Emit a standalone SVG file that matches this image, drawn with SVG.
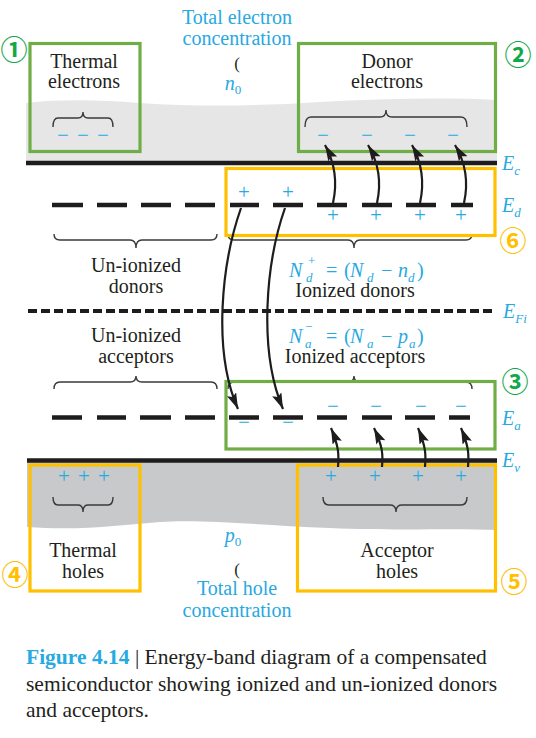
<svg xmlns="http://www.w3.org/2000/svg" width="536" height="738" viewBox="0 0 536 738">
<style>
.lbl{font-family:"Liberation Serif",serif;font-size:20px;fill:#231f20;text-anchor:middle}
.blu{font-family:"Liberation Serif",serif;font-size:20px;fill:#27a9e1;text-anchor:middle}
.it{font-style:italic}
.sub{font-size:13px}
.pm{font-family:"Liberation Serif",serif;font-size:21px;fill:#27a9e1;text-anchor:middle}
.band{stroke:#1e1c1d;stroke-width:4.5;fill:none}
.lvl{stroke:#1e1c1d;stroke-width:4.5;fill:none}
.brace{stroke:#3a3a3a;stroke-width:1.4;fill:none}
.gbox{fill:none;stroke:#70ad47;stroke-width:3.2}
.obox{fill:none;stroke:#ffc000;stroke-width:3.2}
.num{font-family:"Noto Sans CJK SC","DejaVu Sans",sans-serif;font-size:27px;font-weight:bold;text-anchor:middle}
.arr{stroke:#1e1c1d;stroke-width:2.2;fill:none;marker-end:url(#ah)}
.cap{font-family:"Liberation Serif",serif;font-size:21.5px;fill:#231f20}
</style>
<defs>
<marker id="ah" markerUnits="userSpaceOnUse" markerWidth="18" markerHeight="11" refX="16" refY="5" orient="auto" viewBox="0 0 18 11">
<path d="M0,0 L16,5 L0,10 L3,5 Z" fill="#1e1c1d"/>
</marker>
</defs>

<!-- bands background -->
<g id="conduction-band">
<path d="M26,103 C60,99 100,100 140,103 C200,107 260,106 320,102 C380,99 440,97 497,100 L497,161 L26,161 Z" fill="#e6e6e7"/>
<line class="band" x1="26" y1="163" x2="497" y2="163"/>
</g>
<g id="valence-band">
<path d="M27,460 L497,460 L497,530 C450,528 400,531 330,528 C260,525 200,519 160,522 C120,525 80,531 27,527 Z" fill="#c8c9cb"/>
<line class="band" x1="27" y1="460.5" x2="497" y2="460.5"/>
</g>
<g id="fermi-level">
<line x1="28" y1="311" x2="495" y2="311" stroke="#1e1c1d" stroke-width="4" stroke-dasharray="9,4"/>
</g>

<!-- donor level -->
<g id="donor-level">
<path class="lvl" d="M52,205 H83 M97,205 H127 M141,205 H171 M185,205 H215 M230,205 H259 M273,205 H303 M317,205 H347 M362,205 H392 M406,205 H436 M451,205 H473"/>
<text class="pm" x="244" y="199">+</text>
<text class="pm" x="288" y="199">+</text>
<text class="pm" x="333" y="222">+</text>
<text class="pm" x="376" y="222">+</text>
<text class="pm" x="420" y="222">+</text>
<text class="pm" x="461" y="222">+</text>
</g>

<!-- acceptor level -->
<g id="acceptor-level">
<path class="lvl" d="M52,417.5 H82 M97,417.5 H126 M140,417.5 H171 M185,417.5 H215 M229,417.5 H259 M273,417.5 H303 M317,417.5 H347 M362,417.5 H392 M405,417.5 H435 M449,417.5 H470"/>
<text class="pm" x="244" y="429">−</text>
<text class="pm" x="288" y="429">−</text>
<text class="pm" x="333" y="413">−</text>
<text class="pm" x="376" y="413">−</text>
<text class="pm" x="421" y="413">−</text>
<text class="pm" x="461" y="413">−</text>
</g>

<!-- thermal electrons -->
<g id="thermal-electrons">
<path class="brace" d="M53,127 Q53,118 58,118 L78,118 Q83,118 83,112 Q83,118 88,118 L108,118 Q113,118 113,127"/>
<text class="pm" x="63" y="142">−</text>
<text class="pm" x="83" y="142">−</text>
<text class="pm" x="103" y="142">−</text>
<text class="lbl" x="84" y="68">Thermal</text>
<text class="lbl" x="84" y="88">electrons</text>
<rect class="gbox" x="30" y="43.5" width="110" height="108"/>
<text class="num" x="14" y="60" fill="#11a84b">①</text>
</g>

<!-- donor electrons -->
<g id="donor-electrons">
<path class="brace" d="M305,127 Q305,117 311,117 L380,117 Q386,117 386,110 Q386,117 392,117 L461,117 Q467,117 467,127"/>
<text class="pm" x="323" y="142">−</text>
<text class="pm" x="367" y="142">−</text>
<text class="pm" x="410" y="142">−</text>
<text class="pm" x="453" y="142">−</text>
<text class="lbl" x="387" y="68">Donor</text>
<text class="lbl" x="387" y="88">electrons</text>
<rect class="gbox" x="298.5" y="43.5" width="197" height="108"/>
<text class="num" x="518" y="65" fill="#11a84b">②</text>
</g>

<!-- total electron concentration -->
<g id="total-electron">
<text class="blu" x="237" y="24">Total electron</text>
<text class="blu" x="237" y="45">concentration</text>
<text class="lbl" x="237" y="69" style="font-size:17px">(</text>
<text class="blu" x="233" y="90"><tspan class="it">n</tspan><tspan class="sub" dy="4">0</tspan></text>
</g>

<!-- un-ionized donors -->
<g id="unionized-donors">
<path class="brace" d="M54,234 Q54,240 60,240 L130,240 Q136,240 136,248 Q136,240 142,240 L211,240 Q217,240 217,234"/>
<text class="lbl" x="136" y="272">Un-ionized</text>
<text class="lbl" x="136" y="293">donors</text>
</g>

<!-- ionized donors -->
<g id="ionized-donors">
<path class="brace" d="M228,234 Q228,240 234,240 L348,240 Q354,240 354,248 Q354,240 360,240 L466,240 Q472,240 472,234"/>
<text class="blu" style="text-anchor:start" y="277"><tspan class="it" x="289">N</tspan><tspan class="it sub" x="306" y="282">d</tspan><tspan class="sub" x="308" y="265">+</tspan><tspan x="326" y="277">=</tspan><tspan x="344">(</tspan><tspan class="it" x="350">N</tspan><tspan class="it sub" x="367" y="282">d</tspan><tspan x="381" y="277">−</tspan><tspan class="it" x="398">n</tspan><tspan class="it sub" x="408" y="282">d</tspan><tspan x="417" y="277">)</tspan></text>
<text class="lbl" x="355" y="297">Ionized donors</text>
<rect class="obox" x="226" y="168.5" width="269" height="67"/>
<text class="num" x="513" y="251" fill="#ffc000">⑥</text>
</g>

<!-- un-ionized acceptors -->
<g id="unionized-acceptors">
<text class="lbl" x="136" y="342">Un-ionized</text>
<text class="lbl" x="136" y="363">acceptors</text>
<path class="brace" d="M54,389 Q54,382 60,382 L130,382 Q136,382 136,376 Q136,382 142,382 L211,382 Q217,382 217,389"/>
</g>

<!-- ionized acceptors -->
<g id="ionized-acceptors">
<path class="brace" d="M228,389 Q228,382 234,382 L348,382 Q354,382 354,376 Q354,382 360,382 L466,382 Q472,382 472,389"/>
<text class="blu" style="text-anchor:start" y="343"><tspan class="it" x="289">N</tspan><tspan class="it sub" x="305" y="348">a</tspan><tspan class="sub" x="305" y="331">−</tspan><tspan x="326" y="343">=</tspan><tspan x="344">(</tspan><tspan class="it" x="350">N</tspan><tspan class="it sub" x="367" y="348">a</tspan><tspan x="381" y="343">−</tspan><tspan class="it" x="398">p</tspan><tspan class="it sub" x="409" y="348">a</tspan><tspan x="417" y="343">)</tspan></text>
<text class="lbl" x="355" y="363">Ionized acceptors</text>
<rect class="gbox" x="226" y="381.5" width="269" height="67.5"/>
<text class="num" x="515" y="392" fill="#11a84b">③</text>
</g>

<!-- thermal holes -->
<g id="thermal-holes">
<text class="pm" x="64" y="483">+</text>
<text class="pm" x="84" y="483">+</text>
<text class="pm" x="104" y="483">+</text>
<path class="brace" d="M53,497 Q53,505 58,505 L78,505 Q83,505 83,512 Q83,505 88,505 L108,505 Q113,505 113,497"/>
<text class="lbl" x="83" y="557">Thermal</text>
<text class="lbl" x="83" y="578">holes</text>
<rect class="obox" x="30" y="465" width="110" height="126"/>
<text class="num" x="15" y="585" fill="#ffc000">④</text>
</g>

<!-- acceptor holes -->
<g id="acceptor-holes">
<text class="pm" x="331" y="483">+</text>
<text class="pm" x="375" y="483">+</text>
<text class="pm" x="418" y="483">+</text>
<text class="pm" x="461" y="483">+</text>
<path class="brace" d="M323,497 Q323,505 329,505 L390,505 Q396,505 396,512 Q396,505 402,505 L461,505 Q467,505 467,497"/>
<text class="lbl" x="397" y="557">Acceptor</text>
<text class="lbl" x="397" y="578">holes</text>
<rect class="obox" x="297.5" y="465" width="198" height="126"/>
<text class="num" x="514" y="592" fill="#ffc000">⑤</text>
</g>

<!-- total hole concentration -->
<g id="total-hole">
<text class="blu" x="233" y="542"><tspan class="it">p</tspan><tspan class="sub" dy="4">0</tspan></text>
<text class="lbl" x="237" y="575" style="font-size:17px">(</text>
<text class="blu" x="237" y="595">Total hole</text>
<text class="blu" x="237" y="617">concentration</text>
</g>

<!-- energy labels -->
<g id="energy-labels">
<text class="blu it" style="text-anchor:start" x="502" y="170">E<tspan class="sub" dy="5">c</tspan></text>
<text class="blu it" style="text-anchor:start" x="502" y="212">E<tspan class="sub" dy="5">d</tspan></text>
<text class="blu it" style="text-anchor:start" x="503" y="318">E<tspan class="sub" dy="5">Fi</tspan></text>
<text class="blu it" style="text-anchor:start" x="502" y="425">E<tspan class="sub" dy="5">a</tspan></text>
<text class="blu it" style="text-anchor:start" x="502" y="467">E<tspan class="sub" dy="5">v</tspan></text>
</g>

<!-- connectors -->
<g id="connectors">
<path class="arr" d="M333,203 C337,185 336,165 325,145"/>
<path class="arr" d="M377,203 C381,185 380,165 368,145"/>
<path class="arr" d="M420,203 C424,185 423,165 412,145"/>
<path class="arr" d="M464,203 C468,185 467,165 455,145"/>
<path class="arr" d="M338,467 C339,455 339,447 331,428"/>
<path class="arr" d="M382,467 C383,455 383,447 374,428"/>
<path class="arr" d="M425,467 C426,455 426,447 418,428"/>
<path class="arr" d="M468,467 C469,455 469,447 461,428"/>
<path class="arr" d="M241,208 C222,262 212,350 238,409"/>
<path class="arr" d="M285,208 C266,262 258,350 283,409"/>
</g>

<!-- caption -->
<g id="caption">
<text class="cap" x="26" y="664"><tspan fill="#27a9e1" font-weight="bold">Figure 4.14</tspan> | Energy-band diagram of a compensated</text>
<text class="cap" x="26" y="691">semiconductor showing ionized and un-ionized donors</text>
<text class="cap" x="26" y="717">and acceptors.</text>
</g>
</svg>
